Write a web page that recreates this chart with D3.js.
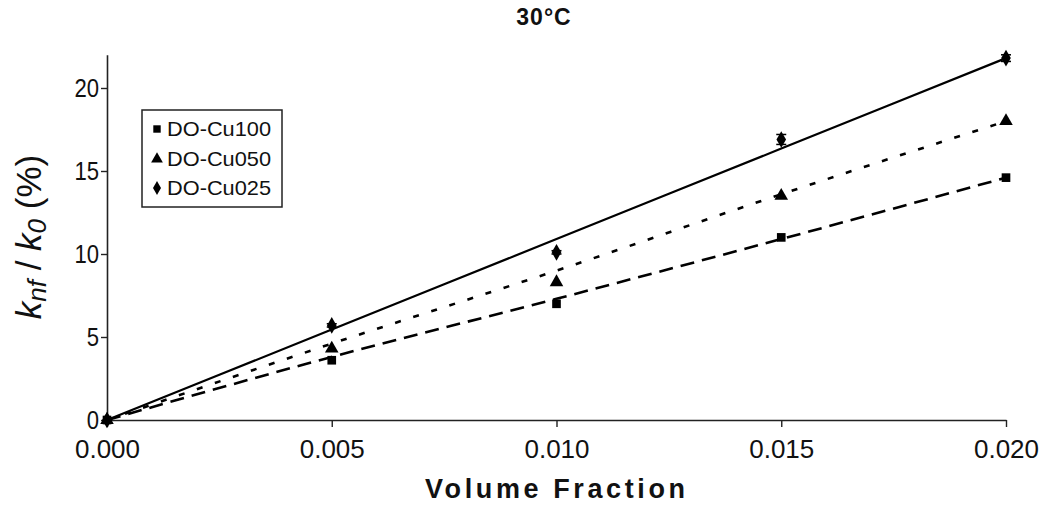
<!DOCTYPE html>
<html>
<head>
<meta charset="utf-8">
<script src="https://cdn.jsdelivr.net/npm/d3@7/dist/d3.min.js"></script>
<style>
html,body{margin:0;padding:0;background:#fff;}
svg{display:block;}
text{font-family:"Liberation Sans",Arial,sans-serif;fill:#111;}
</style>
</head>
<body>
<svg id="chart" width="1042" height="506"></svg>
<script>
// ---- data ----
const volumeFraction = [0, 0.005, 0.010, 0.015, 0.020];
const seriesNames = ["DO-Cu100", "DO-Cu050", "DO-Cu025"];
const cu100 = [0, 3.6, 7.0, 11.0, 14.6];
const cu050 = [0, 4.3, 8.3, 13.5, 18.0];
const cu025 = [0, 5.7, 10.1, 16.9, 21.8];
const cu025Err = [0, 0.1, 0.1, 0.3, 0.2];
// trend lines
const trend100 = [0, 3.8, 7.3, 10.9, 14.6];
const trend050 = [0, 4.6, 9.0, 13.6, 18.0];
const trend025 = [0, 5.45, 10.9, 16.35, 21.8];
const xTicks = [0, 0.005, 0.010, 0.015, 0.020];
const yTicks = [0, 5, 10, 15, 20];
const titleText = "30°C";
const xLabel = "Volume Fraction";

const svg = d3.select("#chart");
const x = d3.scaleLinear().domain([0, 0.02]).range([107, 1006]);
const y = d3.scaleLinear().domain([0, 22]).range([420, 54.8]);

function condense(sel, f) {
  sel.each(function () {
    const w = this.getComputedTextLength();
    d3.select(this).attr("textLength", w * f).attr("lengthAdjust", "spacingAndGlyphs");
  });
}

// title
svg.append("text").attr("x", 544).attr("y", 25).attr("text-anchor", "middle")
  .style("font-weight", "bold").style("font-size", "23px").style("letter-spacing", "1px").text(titleText);

// axes
const xAxis = d3.axisBottom(x).tickValues(xTicks).tickFormat(d3.format(".3f")).tickSize(7).tickSizeOuter(0);
const gx = svg.append("g").attr("transform", "translate(0,420)").call(xAxis);
gx.select(".domain").attr("stroke", "#222").attr("stroke-width", 1.6);
gx.selectAll(".tick line").attr("stroke", "#222").attr("stroke-width", 1.4);
gx.selectAll(".tick text").attr("y", 20).style("font-size", "26px").attr("fill", "#222");

const yAxis = d3.axisLeft(y).tickValues(yTicks).tickSize(6).tickSizeOuter(0);
const gy = svg.append("g").attr("transform", "translate(107,0)").call(yAxis);
gy.select(".domain").attr("stroke", "#222").attr("stroke-width", 1.6);
gy.selectAll(".tick line").attr("stroke", "#222").attr("stroke-width", 1.4);
gy.selectAll(".tick text").attr("x", -8).style("font-size", "26px").attr("fill", "#222");
condense(gy.selectAll(".tick text"), 0.85);

// x label
svg.append("text").attr("x", 555).attr("y", 498).attr("text-anchor", "middle")
  .style("font-weight", "bold").style("font-size", "27px")
  .attr("textLength", 260).attr("lengthAdjust", "spacing").text(xLabel);

// y label
const yl = svg.append("text").attr("transform", "translate(41,237) rotate(-90)")
  .attr("text-anchor", "middle").style("font-size", "35px");
yl.append("tspan").style("font-style", "italic").text("k");
yl.append("tspan").style("font-style", "italic").style("font-size", "26px").attr("dy", 5).text("nf");
yl.append("tspan").attr("dy", -5).text(" / ");
yl.append("tspan").style("font-style", "italic").text("k");
yl.append("tspan").style("font-style", "italic").style("font-size", "26px").attr("dy", 5).text("0");
yl.append("tspan").attr("dy", -5).text(" (%)");

// lines
const line = d3.line().x((d, i) => x(volumeFraction[i])).y(d => y(d)).curve(d3.curveMonotoneX);
svg.append("path").datum(trend025).attr("d", line).attr("fill", "none")
  .attr("stroke", "#000").attr("stroke-width", 2.2);
svg.append("path").datum(trend050).attr("d", line).attr("fill", "none")
  .attr("stroke", "#000").attr("stroke-width", 2.6).attr("stroke-dasharray", "6,13");
svg.append("path").datum(trend100).attr("d", line).attr("fill", "none")
  .attr("stroke", "#000").attr("stroke-width", 2.6).attr("stroke-dasharray", "14,8");

// error bars for DO-Cu025
cu025.forEach((v, i) => {
  const e = cu025Err[i];
  if (e <= 0) return;
  const cx = x(volumeFraction[i]);
  svg.append("line").attr("x1", cx).attr("x2", cx).attr("y1", y(v - e)).attr("y2", y(v + e))
    .attr("stroke", "#000").attr("stroke-width", 1.5);
  [v - e, v + e].forEach(w => svg.append("line").attr("x1", cx - 5).attr("x2", cx + 5)
    .attr("y1", y(w)).attr("y2", y(w)).attr("stroke", "#000").attr("stroke-width", 1.5));
});

// markers
const symSquare = d3.symbol().type(d3.symbolSquare).size(75);
const symTri = d3.symbol().type(d3.symbolTriangle).size(80);
const symDiamond = d3.symbol().type(d3.symbolDiamond).size(80);
function drawMarkers(vals, sym) {
  svg.append("g").selectAll("path").data(vals).join("path")
    .attr("d", sym).attr("fill", "#000")
    .attr("transform", (d, i) => `translate(${x(volumeFraction[i])},${y(d)})`);
}
drawMarkers(cu100, symSquare);
drawMarkers(cu050, symTri);
drawMarkers(cu025, symDiamond);

// legend
const lg = svg.append("g");
lg.append("rect").attr("x", 142).attr("y", 110).attr("width", 140).attr("height", 97)
  .attr("fill", "#fff").attr("stroke", "#222").attr("stroke-width", 1.5);
const legSyms = [
  d3.symbol().type(d3.symbolSquare).size(55),
  d3.symbol().type(d3.symbolTriangle).size(60),
  d3.symbol().type(d3.symbolDiamond).size(55)
];
const legY = [129, 159, 188];
seriesNames.forEach((n, i) => {
  lg.append("path").attr("d", legSyms[i]()).attr("fill", "#000")
    .attr("transform", `translate(157,${legY[i]})`);
  lg.append("text").attr("x", 167).attr("y", legY[i] + 7).style("font-size", "21px")
    .attr("textLength", 104).attr("lengthAdjust", "spacingAndGlyphs").text(n);
});
</script>
</body>
</html>
